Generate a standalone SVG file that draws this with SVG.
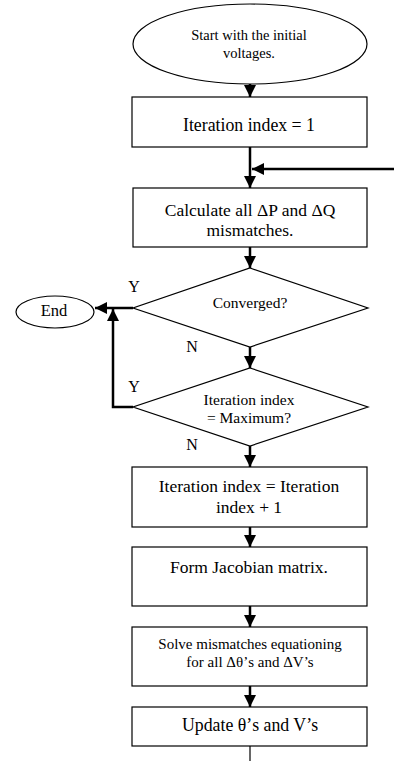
<svg xmlns="http://www.w3.org/2000/svg" width="394" height="761" viewBox="0 0 394 761">
<style>
.shape{fill:#fff;stroke:#000;stroke-width:1.2}
.t{font-family:"Liberation Serif","Times New Roman",serif;fill:#000;text-anchor:middle}
.c{stroke:#000;stroke-width:2.5;fill:none}
.thin{stroke:#000;stroke-width:1.2;fill:none}
</style>
<defs>
<marker id="ah" markerUnits="userSpaceOnUse" markerWidth="12" markerHeight="12" viewBox="0 0 12 12" refX="12" refY="6" orient="auto">
<path d="M0,0 L12,6 L0,12 Z" fill="#000"/>
</marker>
</defs>
<g id="start">
<ellipse class="shape" cx="250" cy="44" rx="117" ry="40"/>
<text class="t" x="249" y="40" font-size="14.5">Start with the initial</text>
<text class="t" x="249" y="58" font-size="14.5">voltages.</text>
</g>
<g id="init">
<rect class="shape" x="132" y="97" width="235" height="50"/>
<text class="t" x="249" y="131" font-size="17.8">Iteration index = 1</text>
</g>
<g id="calc">
<rect class="shape" x="133" y="188" width="234" height="59"/>
<text class="t" x="250" y="216" font-size="17.5">Calculate all ΔP and ΔQ</text>
<text class="t" x="250" y="236" font-size="17.5">mismatches.</text>
</g>
<g id="converged">
<polygon class="shape" points="250,268 368,308 250,347 133,308"/>
<text class="t" x="250" y="308" font-size="15.5">Converged?</text>
</g>
<g id="end">
<ellipse class="shape" cx="55" cy="312" rx="39" ry="16"/>
<text class="t" x="54" y="316" font-size="16.5">End</text>
</g>
<g id="maxcheck">
<polygon class="shape" points="250,368 368,407 250,446 133,407"/>
<text class="t" x="249" y="405" font-size="15.5">Iteration index</text>
<text class="t" x="249" y="423" font-size="15.5">= Maximum?</text>
</g>
<g id="increment">
<rect class="shape" x="132" y="467" width="235" height="60"/>
<text class="t" x="249" y="492" font-size="17.5">Iteration index = Iteration</text>
<text class="t" x="249" y="513" font-size="17.5">index + 1</text>
</g>
<g id="jacobian">
<rect class="shape" x="132" y="547" width="235" height="59"/>
<text class="t" x="249" y="573" font-size="17.5">Form Jacobian matrix.</text>
</g>
<g id="solve">
<rect class="shape" x="132" y="627" width="235" height="59"/>
<text class="t" x="250" y="649" font-size="15">Solve mismatches equationing</text>
<text class="t" x="250" y="667" font-size="15">for all Δθ’s and ΔV’s</text>
</g>
<g id="update">
<rect class="shape" x="132" y="707" width="235" height="39"/>
<text class="t" x="250" y="731" font-size="17.8">Update θ’s and V’s</text>
</g>
<g id="connectors">
<line class="c" x1="250" y1="84" x2="250" y2="97" marker-end="url(#ah)"/>
<line class="c" x1="250" y1="147" x2="250" y2="188" marker-end="url(#ah)"/>
<line class="c" x1="394" y1="169" x2="252" y2="169" marker-end="url(#ah)"/>
<line class="c" x1="250" y1="247" x2="250" y2="268" marker-end="url(#ah)"/>
<line class="c" x1="133" y1="308" x2="95" y2="308" marker-end="url(#ah)"/>
<line class="c" x1="250" y1="347" x2="250" y2="368" marker-end="url(#ah)"/>
<polyline class="c" points="133,407 113,407 113,309" marker-end="url(#ah)" stroke-width="3"/>
<line class="c" x1="250" y1="446" x2="250" y2="467" marker-end="url(#ah)"/>
<line class="c" x1="250" y1="527" x2="250" y2="547" marker-end="url(#ah)"/>
<line class="c" x1="250" y1="606" x2="250" y2="627" marker-end="url(#ah)"/>
<line class="c" x1="250" y1="686" x2="250" y2="707" marker-end="url(#ah)"/>
<line class="thin" x1="250" y1="746" x2="250" y2="761"/>
</g>
<g id="labels">
<text class="t" x="134" y="292" font-size="16">Y</text>
<text class="t" x="192" y="352" font-size="16">N</text>
<text class="t" x="134" y="392" font-size="16">Y</text>
<text class="t" x="192" y="450" font-size="16">N</text>
</g>
</svg>
